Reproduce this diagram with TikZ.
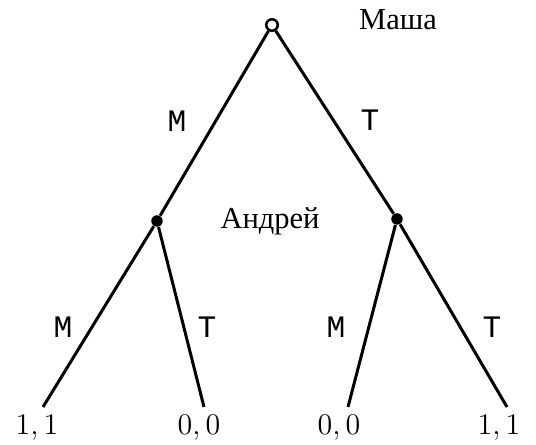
\documentclass[tikz,border=0pt]{standalone}
\usepackage{fontspec}
\setmainfont{Liberation Serif}
\newfontfamily\ttcyr{Liberation Mono}
\usepackage{tikz}

\begin{document}
\begin{tikzpicture}[x=0.4pt,y=-0.4pt,
		move/.style={font=\ttcyr\fontsize{12.5}{14}\selectfont},
		pay/.style={font=\fontsize{12.5}{14}\selectfont},
		who/.style={font=\fontsize{12.2}{14}\selectfont},
		edge/.style={line width=1.2pt}]
			\useasboundingbox (0,0) rectangle (536,445);
			
			\node[circle,draw,line width=1pt,fill=white,inner sep=0pt,minimum size=4.6pt] (root) at (272,25) {};
			\node[circle,fill=black,inner sep=0pt,minimum size=4.6pt] (AL) at (157,221) {};
			\node[circle,fill=black,inner sep=0pt,minimum size=4.6pt] (AR) at (397,219) {};
			
			\coordinate (e1) at (43,407);
			\coordinate (e2) at (204,407);
			\coordinate (e3) at (348,407);
			\coordinate (e4) at (507,407);
			
			\node[pay] (l1) at (37,428) {$1,1$};
			\node[pay] (l2) at (199,428) {$0,0$};
			\node[pay] (l3) at (339,428) {$0,0$};
			\node[pay] (l4) at (499,428) {$1,1$};
			
			\node[who] (masha) at (398,20) {Маша};
			\node[who] (andrey) at (270,221) {Андрей};
			
			\draw[edge] (root)-- (AL);
			\draw[edge] (root)-- (AR);
			\draw[edge] (AL)-- (e1);
			\draw[edge] (AL)-- (e2);
			\draw[edge] (AR)-- (e3);
			\draw[edge] (AR)-- (e4);
			
			\node[move] (m0) at (177,121) {М};
			\node[move] (t0) at (370,120) {Т};
			\node[move] (m1) at (63,327) {М};
			\node[move] (t1) at (207,327) {Т};
			\node[move] (m2) at (336,327) {М};
			\node[move] (t2) at (492,327) {Т};
			
		\end{tikzpicture}
\end{document}
